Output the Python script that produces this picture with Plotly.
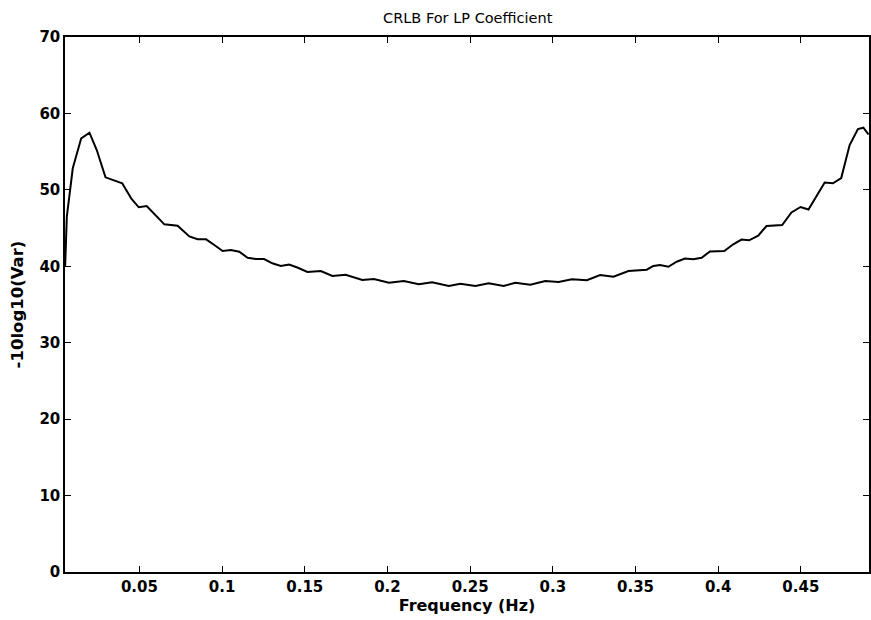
import plotly.graph_objects as go

freq = [0.0051, 0.0061, 0.0097, 0.0148, 0.0198, 0.0242, 0.0295, 0.0349, 0.0396, 0.0450,
        0.0496, 0.0544, 0.0597, 0.0651, 0.0731, 0.0802, 0.0852, 0.0903, 0.0953, 0.1003,
        0.1053, 0.1104, 0.1154, 0.1204, 0.1254, 0.1304, 0.1355, 0.1405, 0.1455, 0.1516,
        0.1597, 0.1667, 0.1747, 0.1848, 0.1918, 0.2009, 0.2099, 0.2190, 0.2270, 0.2371,
        0.2441, 0.2532, 0.2612, 0.2703, 0.2773, 0.2864, 0.2954, 0.3035, 0.3115, 0.3206,
        0.3286, 0.3367, 0.3457, 0.3568, 0.3608, 0.3648, 0.3699, 0.3749, 0.3799, 0.3849,
        0.3900, 0.3950, 0.4037, 0.4091, 0.4141, 0.4187, 0.4242, 0.4292, 0.4387, 0.4443,
        0.4498, 0.4546, 0.4644, 0.4694, 0.4744, 0.4795, 0.4845, 0.4878, 0.4909]
crlb = [40.04, 46.49, 52.82, 56.74, 57.48, 55.21, 51.64, 51.20, 50.86, 48.89,
        47.72, 47.89, 46.71, 45.49, 45.31, 43.90, 43.53, 43.53, 42.78, 42.00,
        42.13, 41.91, 41.12, 40.95, 40.95, 40.39, 40.04, 40.22, 39.84, 39.25,
        39.38, 38.73, 38.90, 38.20, 38.34, 37.85, 38.07, 37.64, 37.90, 37.42,
        37.72, 37.42, 37.77, 37.42, 37.85, 37.59, 38.07, 37.94, 38.30, 38.17,
        38.86, 38.64, 39.38, 39.55, 40.04, 40.17, 39.94, 40.60, 41.02, 40.91,
        41.12, 41.93, 42.00, 42.88, 43.50, 43.40, 44.00, 45.27, 45.40, 47.04,
        47.76, 47.43, 50.96, 50.86, 51.55, 55.87, 57.96, 58.13, 57.24]

x_ticks = [0.05, 0.1, 0.15, 0.2, 0.25, 0.3, 0.35, 0.4, 0.45]
x_labels = ["0.05", "0.1", "0.15", "0.2", "0.25", "0.3", "0.35", "0.4", "0.45"]
y_ticks = [0, 10, 20, 30, 40, 50, 60, 70]

title_text = "CRLB For LP Coefficient"
x_title = "Frequency (Hz)"
y_title = "-10log10(Var)"

font_family = "DejaVu Sans, Liberation Sans, Arial, sans-serif"

fig = go.Figure()
fig.add_trace(go.Scatter(x=freq, y=crlb, mode="lines",
                         line=dict(color="black", width=2), showlegend=False))

fig.update_layout(
    width=871, height=620,
    margin=dict(l=65, r=0, t=37, b=48),
    paper_bgcolor="white", plot_bgcolor="white",
    font=dict(family=font_family, size=15, color="black"),
    title=dict(text=title_text, x=0.537, xanchor="center", y=0.971, yanchor="middle",
               font=dict(family=font_family, size=14.5, color="black", weight=500)),
)
fig.update_xaxes(
    range=[0.005, 0.4912], tickvals=x_ticks, ticktext=x_labels,
    ticks="inside", ticklen=6, tickwidth=1.2, tickcolor="black",
    showline=True, linecolor="black", linewidth=1.5, mirror="ticks",
    showgrid=False, zeroline=False,
    tickfont=dict(family=font_family, size=15, color="black", weight="bold"),
    title=dict(text=x_title, standoff=0,
               font=dict(family=font_family, size=16, color="black", weight="bold")),
)
fig.update_yaxes(
    range=[0, 70], tickvals=y_ticks,
    ticks="inside", ticklen=6, tickwidth=1.2, tickcolor="black",
    showline=True, linecolor="black", linewidth=1.5, mirror="ticks",
    showgrid=False, zeroline=False,
    tickfont=dict(family=font_family, size=15, color="black", weight="bold"),
    title=dict(text=y_title, standoff=12,
               font=dict(family=font_family, size=16.5, color="black", weight="bold")),
)

fig.write_html("out.html")
